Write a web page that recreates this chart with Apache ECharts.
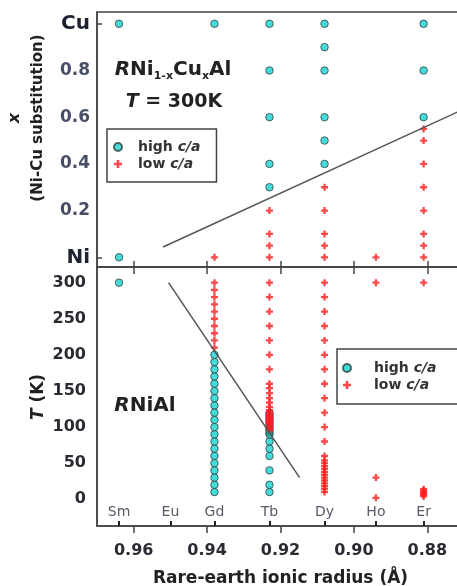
<!DOCTYPE html>
<html>
<head>
<meta charset="utf-8">
<script src="https://cdn.jsdelivr.net/npm/echarts@6/dist/echarts.min.js"></script>
<style>
  html, body { margin: 0; padding: 0; background: #fff; }
  #chart { width: 457px; height: 586px; }
</style>
</head>
<body>
<div id="chart"></div>
<script>
// Rare-earth elements and their ionic radii (Å)
const elements = ['Sm', 'Eu', 'Gd', 'Tb', 'Dy', 'Ho', 'Er'];
const radii = [0.964, 0.950, 0.938, 0.923, 0.908, 0.894, 0.881];

// Radius axis tick labels
const radiusTicks = [0.88, 0.90, 0.92, 0.94, 0.96];

// RNi(1-x)Cu(x)Al at 300 K: Cu fraction x per element
const cuHighSm = [1.0, 0.0];
const cuHighGd = [1.0];
const cuHighTb = [1.0, 0.8, 0.6, 0.4, 0.3];
const cuHighDy = [1.0, 0.9, 0.8, 0.6, 0.5, 0.4];
const cuHighEr = [1.0, 0.8, 0.6];
const cuLowGd = [0.0];
const cuLowTb = [0.2, 0.1, 0.05, 0.0];
const cuLowDy = [0.3, 0.2, 0.1, 0.05, 0.0];
const cuLowHo = [0.0];
const cuLowEr = [0.55, 0.5, 0.4, 0.3, 0.2, 0.1, 0.05, 0.0];
const cuTicks = [0, 0.2, 0.4, 0.6, 0.8, 1.0];
const cuBoundary = [[0.952, 0.044], [0.870, 0.635]];

// RNiAl: temperatures (K) per element
const tHighSm = [300];
const tHighGd = [10, 20, 30, 40, 50, 60, 70, 80, 90, 100, 110, 120, 130, 140, 150, 160, 170, 180, 190, 200];
const tHighTb = [10, 20, 40, 60, 70, 80, 90, 93, 96, 99, 102, 105, 108, 111, 114, 117, 120];
const tLowGd = [210, 220, 230, 240, 250, 260, 270, 280, 290, 300];
const tLowTb = [300, 280, 260, 240, 220, 200, 180, 160, 154, 147, 140, 134, 128, 123, 120, 117, 114, 111, 108, 105, 102, 99, 96];
const tLowDy = [300, 280, 260, 240, 220, 200, 180, 160, 140, 120, 100, 80, 60, 54, 50, 46, 42, 38, 34, 30, 26, 22, 18, 14, 10];
const tLowHo = [300, 30, 2];
const tLowEr = [300, 14, 12, 10, 8, 6, 4];
const tTicks = [0, 50, 100, 150, 200, 250, 300];
const tBoundary = [[0.9505, 300], [0.9148, 30]];

const FONT = 'DejaVu Sans';
const HIGH = 'high c/a';
const LOW = 'low c/a';

function radiusOf(el) { return radii[elements.indexOf(el)]; }
function pts(el, values) { return values.map(v => [radiusOf(el), v]); }

const highTop = [].concat(pts('Sm', cuHighSm), pts('Gd', cuHighGd), pts('Tb', cuHighTb), pts('Dy', cuHighDy), pts('Er', cuHighEr));
const lowTop = [].concat(pts('Gd', cuLowGd), pts('Tb', cuLowTb), pts('Dy', cuLowDy), pts('Ho', cuLowHo), pts('Er', cuLowEr));
const highBot = [].concat(pts('Sm', tHighSm), pts('Gd', tHighGd), pts('Tb', tHighTb));
const lowBot = [].concat(pts('Gd', tLowGd), pts('Tb', tLowTb), pts('Dy', tLowDy), pts('Ho', tLowHo), pts('Er', tLowEr));

// Plus-shaped marker with thick arms
const PLUS = 'path://M4,0H8V4H12V8H8V12H4V8H0V4H4Z';
const highStyle = { color: '#17d2d2', borderColor: '#2e4444', borderWidth: 1 };
const lowStyle = { color: '#ff1a1a' };
const frame = '#444';

const X_MIN = 0.870, X_MAX = 0.970;
const baseX = { type: 'value', min: X_MIN, max: X_MAX, inverse: true, splitLine: { show: false } };

const chart = echarts.init(document.getElementById('chart'), null, { renderer: 'canvas' });

const legendBase = {
  orient: 'vertical',
  data: [HIGH, LOW],
  selectedMode: false,
  itemHeight: 8,
  itemGap: 3,
  borderColor: frame,
  borderWidth: 1.5,
  borderRadius: 0,
  backgroundColor: '#fff',
  formatter: n => n.replace('c/a', '{i|c/a}'),
  textStyle: {
    fontFamily: FONT, fontWeight: 'bold', fontSize: 14, color: '#333',
    rich: { i: { fontFamily: FONT, fontWeight: 'bold', fontStyle: 'italic', fontSize: 14, color: '#333' } }
  }
};

const option = {
  animation: false,
  backgroundColor: '#fff',
  grid: [
    { left: 97, top: 12, width: 367, height: 255, show: true, borderColor: frame, borderWidth: 1.5, containLabel: false, outerBoundsMode: 'none' },
    { left: 97, top: 267, width: 367, height: 259, show: true, borderColor: frame, borderWidth: 1.5, containLabel: false, outerBoundsMode: 'none' }
  ],
  xAxis: [
    Object.assign({}, baseX, {
      gridIndex: 0, position: 'bottom',
      axisLine: { onZero: false, lineStyle: { color: frame, width: 1.5 } },
      axisTick: { inside: true, length: 6, customValues: radiusTicks, lineStyle: { color: frame, width: 1.5 } },
      axisLabel: { show: false }
    }),
    Object.assign({}, baseX, {
      gridIndex: 1, position: 'bottom',
      axisLine: { onZero: false, lineStyle: { color: frame, width: 1.5 } },
      axisTick: { inside: false, length: 7, customValues: radiusTicks, lineStyle: { color: frame, width: 1.5 } },
      axisLabel: { customValues: radiusTicks, margin: 17, fontFamily: FONT, fontWeight: 'bold', fontSize: 16, color: '#2a2a33',
        formatter: v => v.toFixed(2) },
      name: 'Rare-earth ionic radius (Å)', nameLocation: 'middle', nameGap: 44,
      nameTextStyle: { fontFamily: FONT, fontWeight: 'bold', fontSize: 17, color: '#222' }
    }),
    Object.assign({}, baseX, {
      gridIndex: 1, position: 'top',
      axisLine: { show: false, onZero: false },
      axisTick: { inside: true, length: 7, customValues: radiusTicks, lineStyle: { color: frame, width: 1.5 } },
      axisLabel: { show: false }
    }),
    Object.assign({}, baseX, {
      gridIndex: 1, position: 'bottom',
      axisLine: { show: false, onZero: false },
      axisTick: { inside: true, length: 5, customValues: radii, lineStyle: { color: '#222', width: 2 } },
      axisLabel: { inside: true, customValues: radii, margin: 7, fontFamily: FONT, fontSize: 14, color: '#5a5a68',
        formatter: v => elements[radii.reduce((b, r, i) => Math.abs(r - v) < Math.abs(radii[b] - v) ? i : b, 0)] }
    })
  ],
  yAxis: [
    {
      type: 'value', gridIndex: 0, min: -0.0415, max: 1.0505, splitLine: { show: false },
      axisLine: { onZero: false, lineStyle: { color: frame, width: 1.5 } },
      axisTick: { inside: true, length: 5, customValues: [0, 1], lineStyle: { color: frame, width: 1.5 } },
      axisLabel: {
        customValues: cuTicks, margin: 7, fontFamily: FONT, fontWeight: 'bold', fontSize: 17, color: '#474e66',
        formatter: v => v === 0 ? '{el|Ni}' : (v === 1 ? '{el|Cu}' : v.toFixed(1)),
        rich: { el: { fontFamily: FONT, fontWeight: 'bold', fontSize: 20, color: '#1f2230' } }
      }
    },
    {
      type: 'value', gridIndex: 1, min: -37, max: 321.7, splitLine: { show: false },
      axisLine: { onZero: false, lineStyle: { color: frame, width: 1.5 } },
      axisTick: { show: false },
      axisLabel: { customValues: tTicks, margin: 11, fontFamily: FONT, fontWeight: 'bold', fontSize: 16, color: '#2a2a33' }
    }
  ],
  legend: [
    Object.assign({}, legendBase, { left: 107, top: 129, itemWidth: 30, padding: [11, 16, 11, 6] }),
    Object.assign({}, legendBase, { left: 337, top: 349, itemWidth: 44, padding: [12, 40, 12, 5] })
  ],
  series: [
    { name: HIGH, type: 'scatter', xAxisIndex: 0, yAxisIndex: 0, symbol: 'circle', symbolSize: 7.5, itemStyle: highStyle, data: highTop },
    { name: LOW, type: 'scatter', xAxisIndex: 0, yAxisIndex: 0, symbol: PLUS, symbolSize: 7, itemStyle: lowStyle, data: lowTop },
    { name: 'boundary x', type: 'line', xAxisIndex: 0, yAxisIndex: 0, symbol: 'none', silent: true, z: 5,
      lineStyle: { color: '#555', width: 1.5 }, data: cuBoundary },
    { name: HIGH, type: 'scatter', xAxisIndex: 1, yAxisIndex: 1, symbol: 'circle', symbolSize: 7.5, itemStyle: highStyle, data: highBot },
    { name: LOW, type: 'scatter', xAxisIndex: 1, yAxisIndex: 1, symbol: PLUS, symbolSize: 7, itemStyle: lowStyle, data: lowBot },
    { name: 'boundary T', type: 'line', xAxisIndex: 1, yAxisIndex: 1, symbol: 'none', silent: true, z: 5,
      lineStyle: { color: '#555', width: 1.5 }, data: tBoundary }
  ],
  graphic: [
    { type: 'text', x: 173, y: 70, style: {
        text: '{r|R}{n|Ni}{s|1-x}{n|Cu}{s|x}{n|Al}', textAlign: 'center', textVerticalAlign: 'middle',
        rich: {
          r: { fontFamily: FONT, fontWeight: 'bold', fontStyle: 'italic', fontSize: 20, lineHeight: 24, fill: '#222' },
          n: { fontFamily: FONT, fontWeight: 'bold', fontSize: 20, lineHeight: 24, fill: '#222' },
          s: { fontFamily: FONT, fontWeight: 'bold', fontSize: 11, lineHeight: 12, verticalAlign: 'bottom', fill: '#222' }
        } } },
    { type: 'text', x: 174, y: 102, style: {
        text: '{t|T} = 300K', textAlign: 'center', textVerticalAlign: 'middle',
        font: 'bold 19px "DejaVu Sans"', fill: '#222',
        rich: { t: { fontFamily: FONT, fontWeight: 'bold', fontStyle: 'italic', fontSize: 19, fill: '#222' } } } },
    { type: 'text', x: 145, y: 406, style: {
        text: '{t|R}NiAl', textAlign: 'center', textVerticalAlign: 'middle',
        font: 'bold 20px "DejaVu Sans"', fill: '#222',
        rich: { t: { fontFamily: FONT, fontWeight: 'bold', fontStyle: 'italic', fontSize: 20, fill: '#222' } } } },
    { type: 'text', x: 15, y: 118, rotation: Math.PI / 2, style: {
        text: 'x', textAlign: 'center', textVerticalAlign: 'middle',
        font: 'italic bold 16px "DejaVu Sans"', fill: '#222' } },
    { type: 'text', x: 38, y: 118, rotation: Math.PI / 2, style: {
        text: '(Ni-Cu substitution)', textAlign: 'center', textVerticalAlign: 'middle',
        font: 'bold 15px "DejaVu Sans"', fill: '#222' } },
    { type: 'text', x: 39, y: 397, rotation: Math.PI / 2, style: {
        text: '{t|T} (K)', textAlign: 'center', textVerticalAlign: 'middle',
        font: 'bold 17px "DejaVu Sans"', fill: '#222',
        rich: { t: { fontFamily: FONT, fontWeight: 'bold', fontStyle: 'italic', fontSize: 17, fill: '#222' } } } }
  ]
};

chart.setOption(option);
</script>
</body>
</html>
